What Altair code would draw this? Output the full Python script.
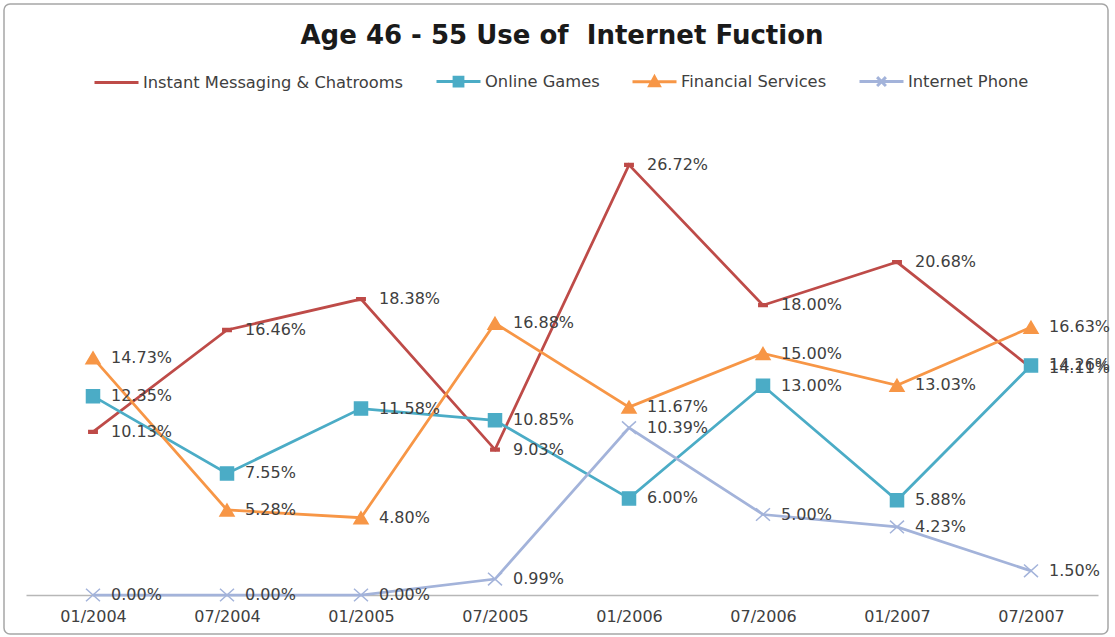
import altair as alt
import pandas as pd

# Survey periods (category axis)
periods = ["01/2004", "07/2004", "01/2005", "07/2005",
           "01/2006", "07/2006", "01/2007", "07/2007"]

# Share of 46-55 year-olds using each internet function, in percent
series_names = ["Instant Messaging & Chatrooms", "Online Games",
                "Financial Services", "Internet Phone"]
instant_messaging = [10.13, 16.46, 18.38, 9.03, 26.72, 18.00, 20.68, 14.11]
online_games = [12.35, 7.55, 11.58, 10.85, 6.00, 13.00, 5.88, 14.26]
financial_services = [14.73, 5.28, 4.80, 16.88, 11.67, 15.00, 13.03, 16.63]
internet_phone = [0.00, 0.00, 0.00, 0.99, 10.39, 5.00, 4.23, 1.50]

series_colors = ["#BE4B48", "#4BACC6", "#F79646", "#A3B3DA"]

# Marker glyphs drawn on the lines
marker_paths = [
    "M-0.6,-0.2H0.6V0.2H-0.6Z",                 # short dash
    "M-0.93,-0.93H0.93V0.93H-0.93Z",            # square
    "M0,-0.85L1,0.85H-1Z",                      # triangle
    "M-1,-0.9L1,0.9M-1,0.9L1,-0.9",             # x
]
# Legend glyphs: a line segment with the marker in its middle.
# Legend symbols are stroked only, so solid markers are built from
# an outline plus closely spaced strokes that fill the inside.
legend_paths = [
    "M-1,0H1",
    "M-1,0H1M-0.2,-0.2H0.2V0.2H-0.2Z"
    "M-0.2,-0.1H0.2M-0.2,0.1H0.2",
    "M-1,0H1M0,-0.22L0.22,0.18H-0.22Z"
    "M-0.055,-0.12H0.055M-0.099,-0.04H0.099"
    "M-0.143,0.04H0.143M-0.187,0.12H0.187",
    "M-1,0H1M-0.2,-0.2L0.2,0.2M-0.2,0.2L0.2,-0.2",
]

rows = []
for name, values in zip(series_names,
                        [instant_messaging, online_games,
                         financial_services, internet_phone]):
    for p, v in zip(periods, values):
        rows.append({"series": name, "period": p, "value": v})
df = pd.DataFrame(rows)

FONT = "DejaVu Sans"
LABEL_COLOR = "#404040"

x_enc = alt.X("period:N", sort=periods,
              scale=alt.Scale(type="point", domain=periods, padding=0.5),
              axis=alt.Axis(title=None, labelAngle=0, ticks=False,
                            domainColor="#B7B7B7", domainWidth=1.5,
                            labelFontSize=16, labelColor=LABEL_COLOR,
                            labelFont=FONT, labelPadding=13))
y_enc = alt.Y("value:Q", scale=alt.Scale(domain=[0, 30], nice=False),
              axis=None)


def series_scale():
    return alt.Scale(domain=series_names, range=series_colors)


base = alt.Chart(df)

# Legend layer first: invisible points whose legend shows line + marker
legend_def = alt.Legend(
    title=None, orient="none", legendX=67, legendY=-54,
    direction="horizontal", padding=0,
    symbolSize=1936, symbolStrokeWidth=3, symbolOpacity=1,
    labelOffset=3, columnPadding=26,
    labelFontSize=16.3, labelFont=FONT, labelColor=LABEL_COLOR,
    labelLimit=400,
)
legend_layer = base.mark_point(filled=False, opacity=0).encode(
    x=x_enc, y=y_enc,
    color=alt.Color("series:N", scale=series_scale(), legend=legend_def),
    shape=alt.Shape("series:N",
                    scale=alt.Scale(domain=series_names, range=legend_paths),
                    legend=legend_def),
)

lines = base.mark_line(strokeWidth=2.75).encode(
    x=x_enc, y=y_enc,
    stroke=alt.Stroke("series:N", scale=series_scale(), legend=None),
)

# One marker layer per series, each with its own glyph
marker_layers = []
for name, path in zip(series_names, marker_paths):
    marker_layers.append(
        base.transform_filter(alt.datum.series == name).mark_point(
            filled=True, size=196, strokeWidth=1.5, opacity=1, shape=path
        ).encode(
            x=x_enc, y=y_enc,
            fill=alt.Fill("series:N", scale=series_scale(), legend=None),
            stroke=alt.Stroke("series:N", scale=series_scale(), legend=None),
        )
    )

labels = base.transform_calculate(
    label="format(datum.value, '.2f') + '%'"
).mark_text(align="left", baseline="middle", dx=18,
            fontSize=16, font=FONT, color=LABEL_COLOR).encode(
    x=x_enc, y=y_enc, text="label:N",
)

frame = alt.Chart(pd.DataFrame({"frame": [0]})).mark_rect(
    fill="transparent", stroke="#A6A6A6", strokeWidth=1.5, cornerRadius=6
).encode(
    x=alt.value(-22), x2=alt.value(1082),
    y=alt.value(-108), y2=alt.value(522),
)

chart = alt.layer(legend_layer, frame, lines, *marker_layers, labels).properties(
    width=1072, height=483,
    title=alt.TitleParams("Age 46 - 55 Use of\u00a0 Internet Fuction",
                          font=FONT, fontSize=26, fontWeight="bold",
                          color="#1A1A1A", anchor="middle", offset=0, dy=46),
    autosize="none",
    padding={"left": 26, "top": 112, "right": 17, "bottom": 42},
    background="white",
).configure_view(stroke=None)

chart.save("out.html", embed_options={"renderer": "svg", "actions": False})
